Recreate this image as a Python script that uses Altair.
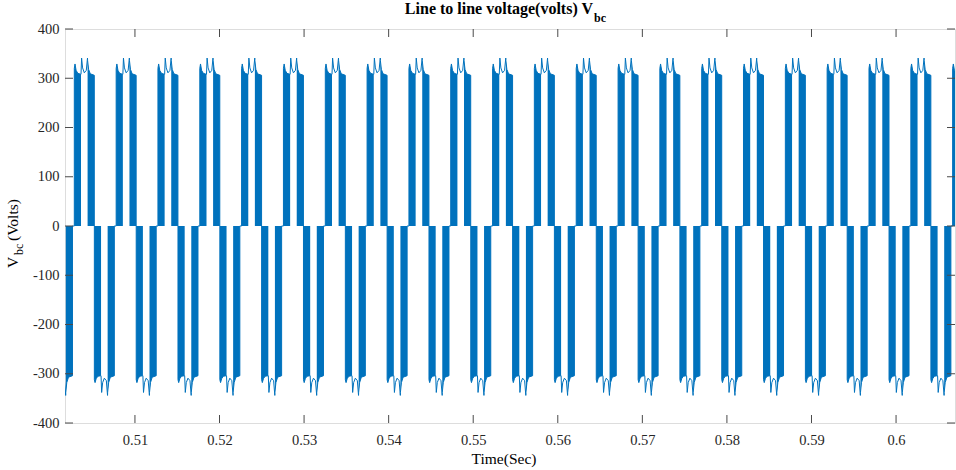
import altair as alt
import pandas as pd

# ---------------- data ----------------
X_DOMAIN = [0.50173, 0.60697]
Y_DOMAIN = [-400, 400]
x_ticks = [0.51, 0.52, 0.53, 0.54, 0.55, 0.56, 0.57, 0.58, 0.59, 0.60]
y_ticks = [-400, -300, -200, -100, 0, 100, 200, 300, 400]

# start time (s) of the positive pulse group of every cycle
cycle_starts = [0.49788, 0.50283, 0.50778, 0.51272, 0.51767, 0.52261, 0.52756,
                0.53251, 0.53745, 0.54240, 0.54734, 0.55229, 0.55723, 0.56218,
                0.56713, 0.57207, 0.57702, 0.58196, 0.58691, 0.59185, 0.59680,
                0.60175, 0.60669]

# envelope of one pulse group: offsets in ms from the group start, values in V
env_offsets_ms = [0, 0.083, 0.213, 0.414, 0.768, 0.792, 0.863, 0.981, 1.182,
                  1.418, 1.560, 1.572, 1.690, 1.891, 2.364]
pos_env_v = [320, 329, 316, 310, 308, 308, 341, 321, 311, 316, 341, 336, 318, 309, 306]
neg_env_v = [-312, -318, -310, -305, -304, -304, -338, -318, -309, -314, -344, -338,
             -318, -307, -304]
neg_group_start_ms = 2.370      # negative group starts after the positive one
band1_end_ms = 0.792            # first switching band of a group
band2_start_ms = 1.572          # second switching band of a group
group_len_ms = 2.364

# ---------------- tables built from the lists ----------------
wave_rows, band_rows = [], []
idx = 0
band_id = 0
for c in cycle_starts:
    for g0, vals in ((0.0, pos_env_v), (neg_group_start_ms, neg_env_v)):
        pts = [(g0, 0.0)] + [(g0 + o, v) for o, v in zip(env_offsets_ms, vals)] + \
              [(g0 + group_len_ms, 0.0)]
        for o, v in pts:
            wave_rows.append({"t": c + o / 1000.0, "v": v, "i": idx})
            idx += 1
        for lo, hi in ((0.0, band1_end_ms), (band2_start_ms, group_len_ms)):
            for o, v in zip(env_offsets_ms, vals):
                if lo - 1e-9 <= o <= hi + 1e-9:
                    band_rows.append({"t": c + (g0 + o) / 1000.0, "v": v, "b": band_id})
            band_id += 1

wave = pd.DataFrame(wave_rows)
bands = pd.DataFrame(band_rows)

BLUE = "#0072BD"
AXC = "#4a4a4a"
FONT = "'Liberation Serif', 'Times New Roman', serif"

x_axis = alt.Axis(values=x_ticks, format=".2~f", title=None, domain=False,
                  ticks=False, tickSize=0, grid=False, labelPadding=10,
                  labelFont=FONT, labelFontSize=14.5, labelColor="#262626")
y_axis = alt.Axis(values=y_ticks, labelExpr="'' + datum.value", title=None,
                  domain=False, ticks=False, tickSize=0, grid=False,
                  labelPadding=6, labelFont=FONT, labelFontSize=14.5,
                  labelColor="#262626")
xs = alt.Scale(domain=X_DOMAIN, nice=False, zero=False)
ys = alt.Scale(domain=Y_DOMAIN, nice=False)

areas = alt.Chart(bands).mark_area(color=BLUE, clip=True, opacity=1).encode(
    x=alt.X("t:Q", scale=xs, axis=x_axis),
    y=alt.Y("v:Q", scale=ys, axis=y_axis),
    y2=alt.datum(0),
    detail="b:N",
)
line = alt.Chart(wave).mark_line(color=BLUE, strokeWidth=1, clip=True).encode(
    x=alt.X("t:Q", scale=xs, axis=x_axis),
    y=alt.Y("v:Q", scale=ys, axis=y_axis),
    order="i:Q",
)

xt = pd.DataFrame({"t": x_ticks})
yt = pd.DataFrame({"v": y_ticks})
H, W, TL = 394, 890, 8
xtick_b = alt.Chart(xt).mark_rule(color=AXC, strokeWidth=1).encode(
    x=alt.X("t:Q", scale=xs, axis=x_axis), y=alt.value(H), y2=alt.value(H - TL))
xtick_t = alt.Chart(xt).mark_rule(color=AXC, strokeWidth=1).encode(
    x=alt.X("t:Q", scale=xs, axis=x_axis), y=alt.value(0), y2=alt.value(TL))
ytick_l = alt.Chart(yt).mark_rule(color=AXC, strokeWidth=1).encode(
    y=alt.Y("v:Q", scale=ys, axis=y_axis), x=alt.value(0), x2=alt.value(TL))
ytick_r = alt.Chart(yt).mark_rule(color=AXC, strokeWidth=1).encode(
    y=alt.Y("v:Q", scale=ys, axis=y_axis), x=alt.value(W), x2=alt.value(W - TL))

one = pd.DataFrame({"a": [0]})


def txt(s, x, y, size, bold=False, align="left", angle=0):
    kw = dict(text=s, font=FONT, fontSize=size, align=align, baseline="alphabetic",
              color="#000000", fontWeight="bold" if bold else "normal")
    if angle:
        kw["angle"] = angle
    return alt.Chart(one).mark_text(**kw).encode(x=alt.value(x), y=alt.value(y))


texts = [
    txt("Line to line voltage(volts) V", 528, -15.5, 16, bold=True, align="right"),
    txt("bc", 529, -7.5, 12, bold=True),
    txt("Time(Sec)", 439, 435, 15.5, align="center"),
    txt("V", -47, 239, 15.5, angle=270),
    txt("bc", -42, 226, 12, angle=270),
    txt("(Volts)", -47, 212, 15.5, angle=270),
]

chart = alt.layer(areas, line, xtick_b, xtick_t, ytick_l, ytick_r, *texts).properties(
    width=W, height=H,
    autosize=alt.AutoSizeParams(type="none"),
    padding={"left": 65, "top": 29, "right": 1, "bottom": 47},
).configure_view(stroke=AXC, strokeWidth=1).configure(background="white")

chart.save("out.html", embed_options={"renderer": "svg", "actions": False})
